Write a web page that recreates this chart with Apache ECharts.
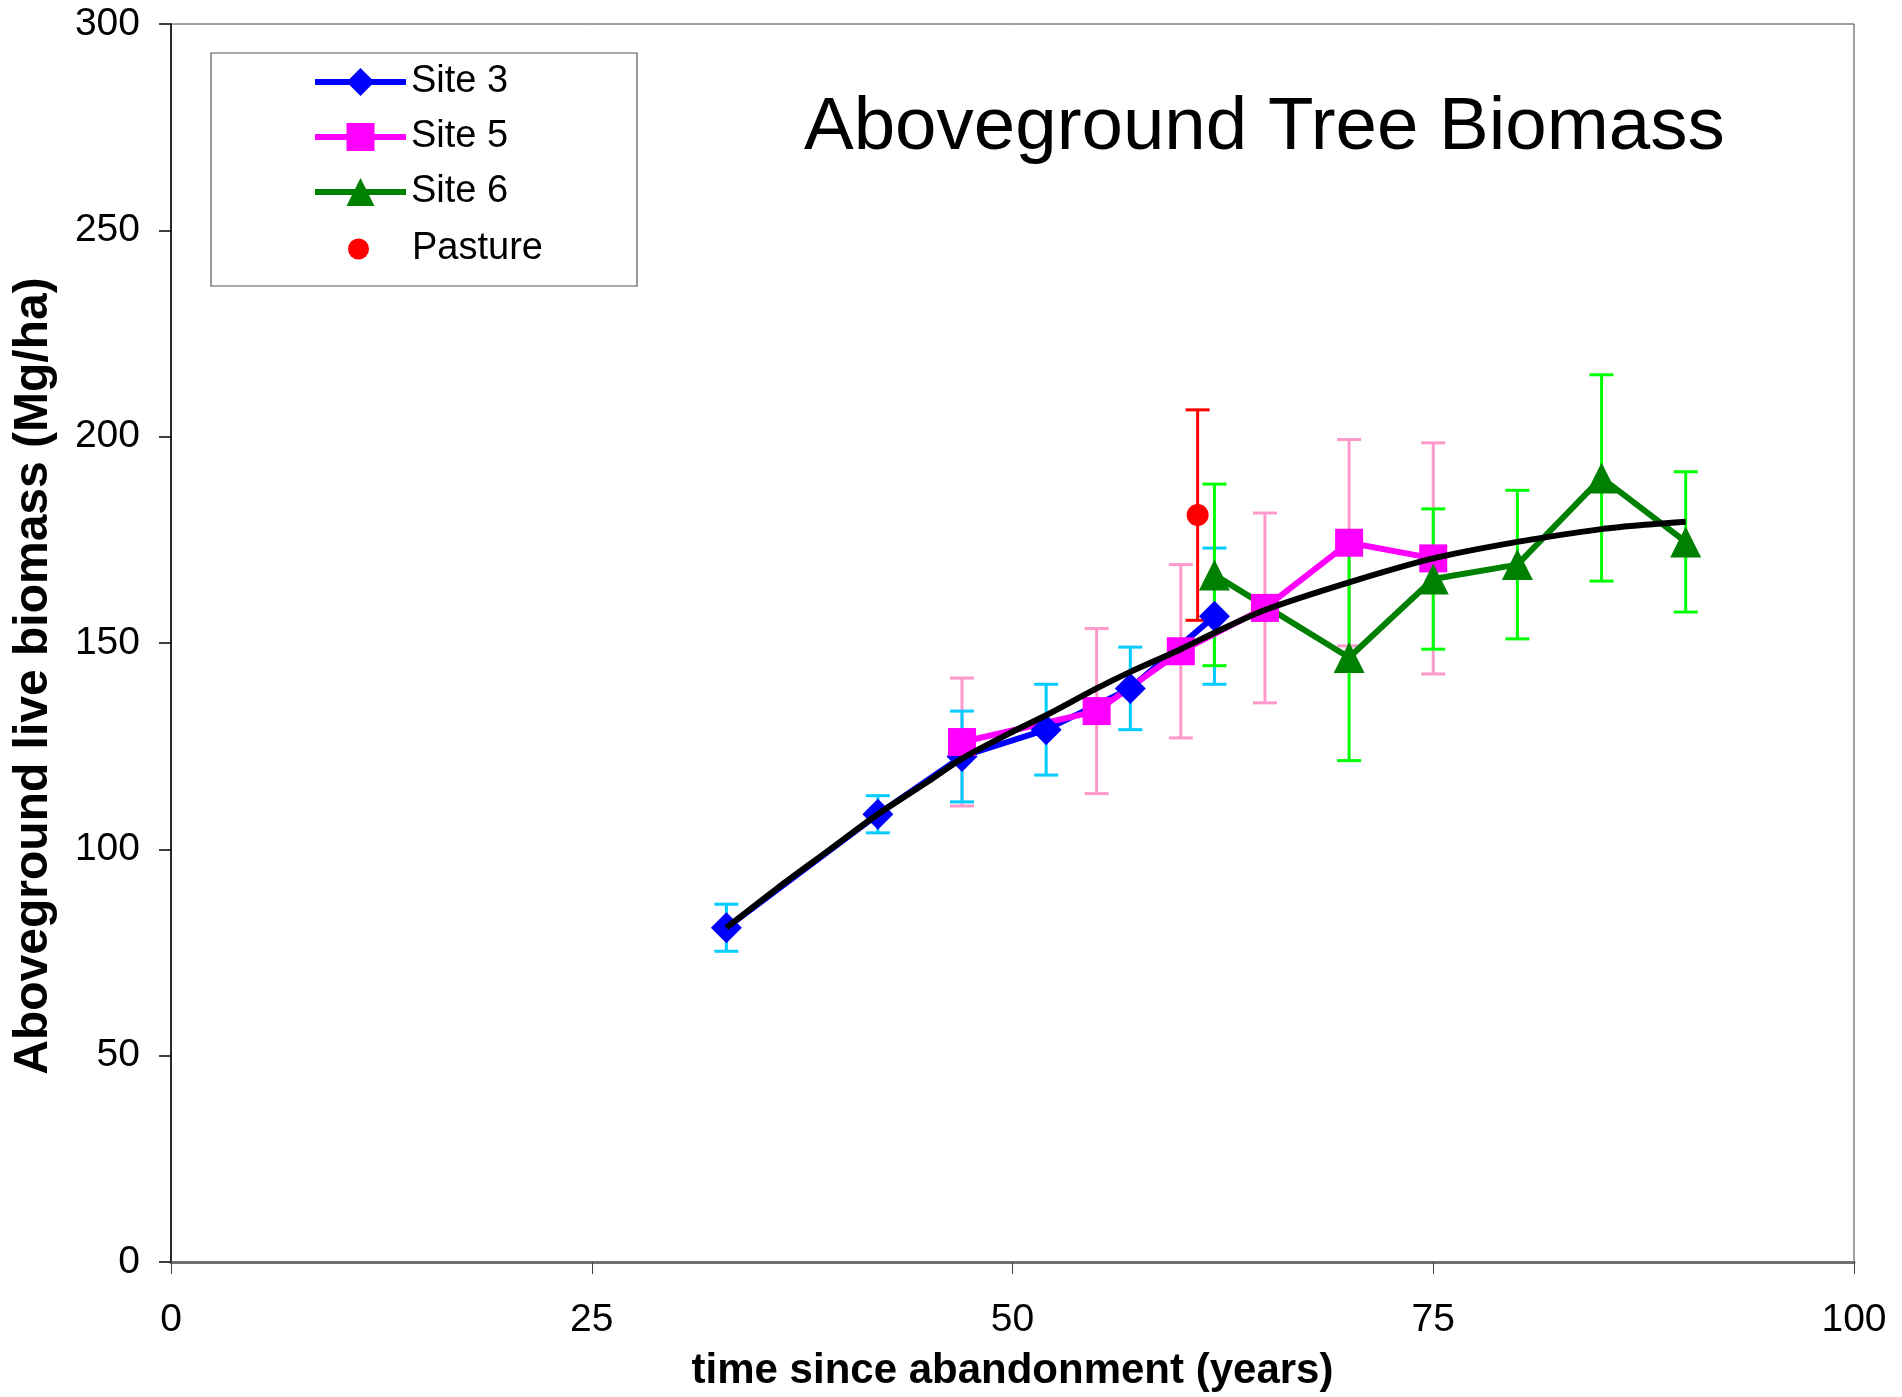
<!DOCTYPE html>
<html>
<head>
<meta charset="utf-8">
<title>Aboveground Tree Biomass</title>
<script src="https://cdn.jsdelivr.net/npm/echarts@6/dist/echarts.min.js"></script>
<style>
  body { margin: 0; background: #fff; }
  #chart1 { width: 1902px; height: 1397px; }
</style>
</head>
<body>
<div id="chart1"></div>
<script>
// datos

const site3X = [33, 42, 47, 52, 57, 62]
const site3Y = [81, 108.5, 122.5, 129, 139, 156.5]
const site3Err = [5.7, 4.5, 11, 11, 10, 16.5]

const site5X = [47, 55, 60, 65, 70, 75]
const site5Y = [126, 133.5, 148, 158.5, 174.3, 170.5]
const site5Err = [15.5, 20, 21, 23, 25, 28]

const site6X = [62, 70, 75, 80, 85, 90]
const site6Y = [166.5, 146.5, 165.5, 169, 190, 174.5]
const site6Err = [22, 25, 17, 18, 25, 17]

const pastureX = [61]
const pastureY = [181]
const pastureErr = [25.5]

// curva ajustada (negra)
const fitX = [33, 36, 39, 42, 45, 47, 50, 52, 55, 57, 60, 62, 65, 70, 75, 80, 85, 88, 90]
const fitY = [81, 90.5, 99.5, 108.5, 116.5, 122, 128.5, 132.5, 139, 143, 148.5, 152.5, 158, 164.7, 170.5, 174.5, 177.6, 178.8, 179.4]

const xTicks = [0, 25, 50, 75, 100]
const yTicks = [0, 50, 100, 150, 200, 250, 300]

const FONT = '"Liberation Sans", Arial, sans-serif'

const pares = (xs, ys) => xs.map((x, i) => [x, ys[i]])
const trios = (xs, ys, es) => xs.map((x, i) => [x, ys[i], es[i]])

const barras = (name, color, data) => {
  return {
    name: name,
    type: 'custom',
    z: 1,
    data: data,
    encode: { x: 0, y: 1 },
    renderItem: (params, api) => {
      const x = api.value(0)
      const y = api.value(1)
      const e = api.value(2)
      const hi = api.coord([x, y + e])
      const lo = api.coord([x, y - e])
      const w = 12
      const st = { stroke: color, lineWidth: 3, fill: null }
      return {
        type: 'group',
        children: [
          { type: 'line', shape: { x1: hi[0], y1: hi[1], x2: lo[0], y2: lo[1] }, style: st },
          { type: 'line', shape: { x1: hi[0] - w, y1: hi[1], x2: hi[0] + w, y2: hi[1] }, style: st },
          { type: 'line', shape: { x1: lo[0] - w, y1: lo[1], x2: lo[0] + w, y2: lo[1] }, style: st }
        ]
      }
    }
  }
}

const linea = (name, color, symbol, size, data) => {
  return {
    name: name,
    type: 'line',
    z: 2,
    data: data,
    symbol: symbol,
    symbolSize: size,
    showSymbol: true,
    lineStyle: { color: color, width: 6 },
    itemStyle: { color: color }
  }
}

const getOptionChart1 = () => {
  return {
    animation: false,
    backgroundColor: '#fff',
    textStyle: { fontFamily: FONT },
    title: {
      text: 'Aboveground Tree Biomass',
      left: 804,
      top: 91,
      padding: 0,
      textStyle: { fontFamily: FONT, fontSize: 74.5, fontWeight: 'normal', color: '#000' }
    },
    grid: {
      left: 171, top: 24, width: 1683, height: 1240,
      show: true, borderColor: '#404040', borderWidth: 1
    },
    legend: [
      {
        data: ['Site 3', 'Site 5', 'Site 6'],
        orient: 'vertical',
        left: 312, top: 63,
        itemWidth: 91, itemHeight: 35, itemGap: 17,
        padding: 0,
        lineStyle: { width: 6 },
        textStyle: { fontFamily: FONT, fontSize: 38, lineHeight: 35, color: '#000' }
      },
      {
        data: ['Pasture'],
        orient: 'vertical',
        left: 348, top: 230,
        itemWidth: 91, itemHeight: 21,
        padding: 0,
        itemStyle: { opacity: 1 },
        textStyle: { fontFamily: FONT, fontSize: 38, lineHeight: 21, color: '#000', padding: [0, 0, 0, 3] }
      }
    ],
    graphic: [
      {
        type: 'rect',
        shape: { x: 211, y: 53, width: 426, height: 233 },
        style: { fill: null, stroke: '#555', lineWidth: 1.2 },
        z: 0
      },
      {
        type: 'text',
        x: 34, y: 676,
        rotation: Math.PI / 2,
        style: {
          text: 'Aboveground live biomass (Mg/ha)',
          font: 'bold 48px ' + FONT,
          fill: '#000',
          align: 'center',
          verticalAlign: 'middle'
        }
      }
    ],
    xAxis: {
      type: 'value',
      min: xTicks[0], max: xTicks[xTicks.length - 1], interval: 25,
      name: 'time since abandonment (years)',
      nameLocation: 'middle',
      nameGap: 88,
      nameTextStyle: { fontFamily: FONT, fontSize: 42, fontWeight: 'bold', color: '#000' },
      axisLine: { show: true, lineStyle: { color: '#707070', width: 3 } },
      axisTick: { show: true, length: 12, lineStyle: { color: '#404040', width: 1 } },
      axisLabel: { margin: 39, fontFamily: FONT, fontSize: 39, color: '#000' },
      splitLine: { show: false }
    },
    yAxis: {
      type: 'value',
      min: yTicks[0], max: yTicks[yTicks.length - 1], interval: 50,
      axisLine: { show: true, lineStyle: { color: '#000', width: 1.5 } },
      axisTick: { show: true, length: 12, lineStyle: { color: '#000', width: 1.5 } },
      axisLabel: { margin: 31, fontFamily: FONT, fontSize: 39, color: '#000' },
      splitLine: { show: false }
    },
    series: [
      barras('err5', '#FF99CC', trios(site5X, site5Y, site5Err)),
      barras('err3', '#00CCFF', trios(site3X, site3Y, site3Err)),
      barras('err6', '#00FF00', trios(site6X, site6Y, site6Err)),
      barras('errP', '#FF0000', trios(pastureX, pastureY, pastureErr)),
      linea('Site 3', '#0000FF', 'diamond', 31, pares(site3X, site3Y)),
      linea('Site 5', '#FF00FF', 'rect', 28, pares(site5X, site5Y)),
      linea('Site 6', '#008000', 'triangle', 31, pares(site6X, site6Y)),
      {
        name: 'Pasture',
        type: 'scatter',
        z: 2,
        symbol: 'circle',
        symbolSize: 22,
        itemStyle: { color: '#FF0000', opacity: 1 },
        data: pares(pastureX, pastureY)
      },
      {
        name: 'fit',
        type: 'line',
        z: 3,
        smooth: 0.3,
        showSymbol: false,
        lineStyle: { color: '#000', width: 6 },
        data: pares(fitX, fitY)
      }
    ]
  }
}

const iniciarCharts = () => {
  const chart1 = echarts.init(document.getElementById('chart1'))
  chart1.setOption(getOptionChart1())
}

window.addEventListener('load', () => {
  iniciarCharts()
})
</script>
</body>
</html>
